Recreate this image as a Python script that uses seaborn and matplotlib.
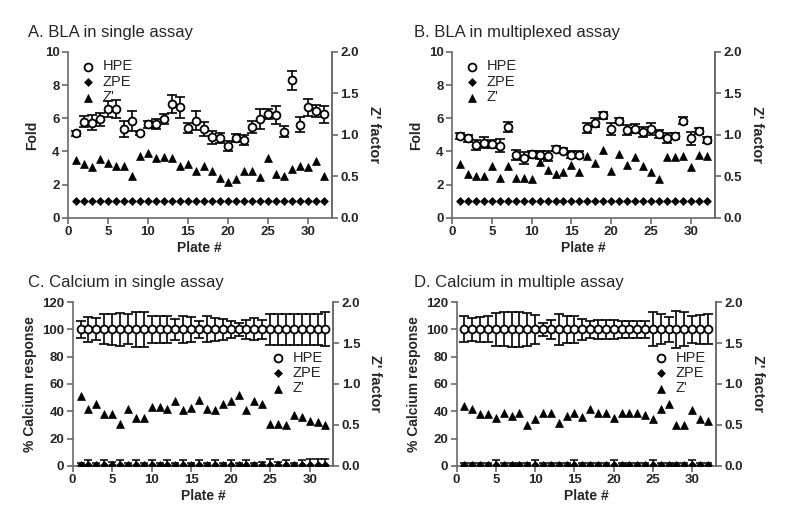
"""
Plate-by-plate assay quality: HPE / ZPE signal with Z' factor on a twin axis.

Usage:
    python plot.py
"""

import matplotlib.pyplot as plt
import seaborn as sns

plates = list(range(1, 33))

# A. BLA in single assay
bla_single_hpe = [5.1, 5.8, 5.74, 5.94, 6.56, 6.56, 5.34, 5.86, 5.1, 5.64, 5.64, 5.97,
                  6.86, 6.66, 5.43, 5.86, 5.36, 4.86, 4.8, 4.35, 4.8, 4.7, 5.48, 5.94,
                  6.28, 6.2, 5.2, 8.28, 5.6, 6.66, 6.44, 6.24]
bla_single_err = [0.15, 0.32, 0.45, 0.4, 0.46, 0.56, 0.47, 0.6, 0.1, 0.2, 0.3, 0.3,
                  0.53, 0.62, 0.3, 0.55, 0.4, 0.4, 0.3, 0.3, 0.25, 0.3, 0.35, 0.6,
                  0.3, 0.55, 0.35, 0.55, 0.45, 0.5, 0.35, 0.5]
bla_single_zpe = [1.0] * 32
bla_single_z = [0.70, 0.65, 0.61, 0.71, 0.66, 0.63, 0.63, 0.51, 0.75, 0.78, 0.72, 0.73,
                0.72, 0.63, 0.65, 0.56, 0.63, 0.57, 0.48, 0.43, 0.47, 0.57, 0.57, 0.49,
                0.72, 0.53, 0.51, 0.59, 0.62, 0.61, 0.69, 0.50]

# B. BLA in multiplexed assay
bla_multi_hpe = [4.94, 4.8, 4.4, 4.54, 4.44, 4.36, 5.46, 3.8, 3.6, 3.83, 3.8, 3.74,
                 4.15, 4.05, 3.8, 3.8, 5.44, 5.74, 6.18, 5.36, 5.84, 5.3, 5.38, 5.16,
                 5.34, 5.04, 4.8, 4.94, 5.86, 4.8, 5.24, 4.7]
bla_multi_err = [0.2, 0.2, 0.3, 0.35, 0.25, 0.4, 0.3, 0.3, 0.35, 0.2, 0.25, 0.3,
                 0.15, 0.15, 0.2, 0.2, 0.3, 0.25, 0.2, 0.35, 0.15, 0.3, 0.25, 0.3,
                 0.35, 0.25, 0.3, 0.2, 0.2, 0.4, 0.2, 0.2]
bla_multi_zpe = [1.0] * 32
bla_multi_z = [0.65, 0.53, 0.51, 0.50, 0.62, 0.48, 0.63, 0.48, 0.48, 0.47, 0.67, 0.58,
               0.53, 0.55, 0.64, 0.55, 0.75, 0.66, 0.82, 0.56, 0.77, 0.64, 0.73, 0.63,
               0.55, 0.47, 0.73, 0.73, 0.74, 0.61, 0.76, 0.75]

# C. Calcium in single assay
ca_single_hpe = [100.0] * 32
ca_single_err = [6.5, 9, 8, 11, 11.5, 12, 11, 13, 13, 10, 10, 10,
                 7.5, 10, 9, 6.5, 9.5, 8.5, 7.5, 6, 5, 7, 8, 7,
                 11.5, 11.5, 11.5, 11.5, 11.5, 11.5, 11.5, 12.5]
ca_single_zpe = [1.0] * 32
ca_single_zpe_err = [1, 3, 1, 3, 2, 3, 1, 3, 1, 3, 1, 3, 1, 3, 1, 3,
                     1, 3, 1, 3, 1, 3, 1, 2, 4, 2, 3, 1, 3, 4, 4, 4]
ca_single_z = [0.85, 0.70, 0.75, 0.63, 0.63, 0.51, 0.70, 0.59, 0.58, 0.72, 0.72, 0.70,
               0.79, 0.68, 0.71, 0.80, 0.70, 0.68, 0.76, 0.79, 0.87, 0.68, 0.79, 0.76,
               0.51, 0.51, 0.50, 0.62, 0.60, 0.55, 0.53, 0.50]

# D. Calcium in multiple assay
ca_multi_hpe = [100.0] * 32
ca_multi_err = [9.5, 8.3, 9, 9.5, 12, 12.5, 13, 13, 12, 10.5, 4.5, 7,
                11.5, 10, 10, 7.5, 6.5, 7, 6.7, 6.7, 6.5, 6.3, 6.5, 6.5,
                12.5, 11, 9, 13.5, 12.5, 10, 10.5, 11]
ca_multi_zpe = [1.0] * 32
ca_multi_zpe_err = [1, 1, 1, 1, 3, 1, 1, 1, 1, 3, 1, 1, 1, 1, 3, 1,
                    1, 1, 1, 3, 1, 1, 1, 1, 3, 1, 1, 1, 1, 3, 1, 1]
ca_multi_z = [0.73, 0.69, 0.63, 0.63, 0.59, 0.64, 0.61, 0.64, 0.50, 0.57, 0.64, 0.64,
              0.52, 0.61, 0.65, 0.60, 0.69, 0.64, 0.64, 0.59, 0.64, 0.64, 0.65, 0.62,
              0.57, 0.70, 0.75, 0.50, 0.50, 0.68, 0.57, 0.55]

SPINE = "#6a6a6a"


def style_axes(ax, ax2):
    for a in (ax, ax2):
        a.spines["top"].set_visible(False)
        for side in ("left", "right", "bottom"):
            a.spines[side].set_color(SPINE)
            a.spines[side].set_linewidth(1.2)
        a.tick_params(direction="out", length=4, width=1.2, color=SPINE,
                      labelsize=9.5, pad=2)
        for lab in a.get_xticklabels() + a.get_yticklabels():
            lab.set_fontweight("bold")
    ax2.spines["left"].set_visible(False)
    ax2.spines["bottom"].set_visible(False)


def draw_panel(rect, title, title_pos, hpe, hpe_err, zpe, zpe_err, zprime,
               ylim, yticks, ylabel, legend_anchor):
    ax = fig.add_axes(rect)
    ax2 = ax.twinx()

    ax.errorbar(plates, hpe, yerr=hpe_err, fmt="none", ecolor="black",
                elinewidth=1.2, capsize=3.5, capthick=1.2, zorder=2)
    if zpe_err is not None:
        ax.errorbar(plates, zpe, yerr=zpe_err, fmt="none", ecolor="black",
                    elinewidth=1.1, capsize=3, capthick=1.1, zorder=2)
    sns.scatterplot(x=plates, y=hpe, ax=ax, marker="o", s=32, color="white",
                    edgecolor="black", linewidth=1.3, label="HPE", legend=False,
                    zorder=3)
    sns.scatterplot(x=plates, y=zpe, ax=ax, marker="D", s=16, color="black",
                    edgecolor="black", linewidth=0.5, label="ZPE", legend=False,
                    zorder=3)
    sns.scatterplot(x=plates, y=zprime, ax=ax2, marker="^", s=32, color="black",
                    edgecolor="black", linewidth=0.5, label="Z'", legend=False,
                    zorder=3)

    ax.set_xlim(0, 33)
    ax.set_xticks([0, 5, 10, 15, 20, 25, 30])
    ax.set_ylim(*ylim)
    ax.set_yticks(yticks)
    ax2.set_ylim(0, 2)
    ax2.set_yticks([0, 0.5, 1.0, 1.5, 2.0])
    ax2.set_yticklabels(["0.0", "0.5", "1.0", "1.5", "2.0"])

    ax.set_xlabel("Plate #", fontsize=10, fontweight="bold", labelpad=2)
    ax.set_ylabel(ylabel, fontsize=10, fontweight="bold", labelpad=4)
    ax2.set_ylabel("Z' factor", fontsize=10.5, fontweight="bold", rotation=270,
                   labelpad=16)
    style_axes(ax, ax2)

    h1, l1 = ax.get_legend_handles_labels()
    h2, l2 = ax2.get_legend_handles_labels()
    leg = ax2.legend(h1 + h2, l1 + l2, loc="upper left",
                     bbox_to_anchor=legend_anchor, frameon=False, fontsize=10.5,
                     handletextpad=0.2, labelspacing=0.1, handlelength=1.6,
                     borderaxespad=0)
    leg.set_zorder(5)

    fig.text(title_pos[0] / 790, 1 - title_pos[1] / 530, title, fontsize=12,
             ha="left", va="center")


sns.set_style("ticks")
plt.rcParams["font.family"] = ["Liberation Sans", "DejaVu Sans"]

fig = plt.figure(figsize=(7.9, 5.3), dpi=100)

draw_panel([0.086, 0.589, 0.334, 0.313], "A. BLA in single assay", (28, 33),
           bla_single_hpe, bla_single_err, bla_single_zpe, None, bla_single_z,
           (0, 10), [0, 2, 4, 6, 8, 10], "Fold", (0.01, 0.99))
draw_panel([0.572, 0.589, 0.333, 0.313], "B. BLA in multiplexed assay", (414, 33),
           bla_multi_hpe, bla_multi_err, bla_multi_zpe, None, bla_multi_z,
           (0, 10), [0, 2, 4, 6, 8, 10], "Fold", (0.01, 0.99))
draw_panel([0.092, 0.121, 0.330, 0.309], "C. Calcium in single assay", (28, 283),
           ca_single_hpe, ca_single_err, ca_single_zpe, ca_single_zpe_err, ca_single_z,
           (0, 120), [0, 20, 40, 60, 80, 100, 120], "% Calcium response",
           (0.72, 0.74))
draw_panel([0.578, 0.121, 0.328, 0.309], "D. Calcium in multiple assay", (414, 283),
           ca_multi_hpe, ca_multi_err, ca_multi_zpe, ca_multi_zpe_err, ca_multi_z,
           (0, 120), [0, 20, 40, 60, 80, 100, 120], "% Calcium response",
           (0.72, 0.74))

fig.savefig("out.png", dpi=100)
plt.close(fig)
